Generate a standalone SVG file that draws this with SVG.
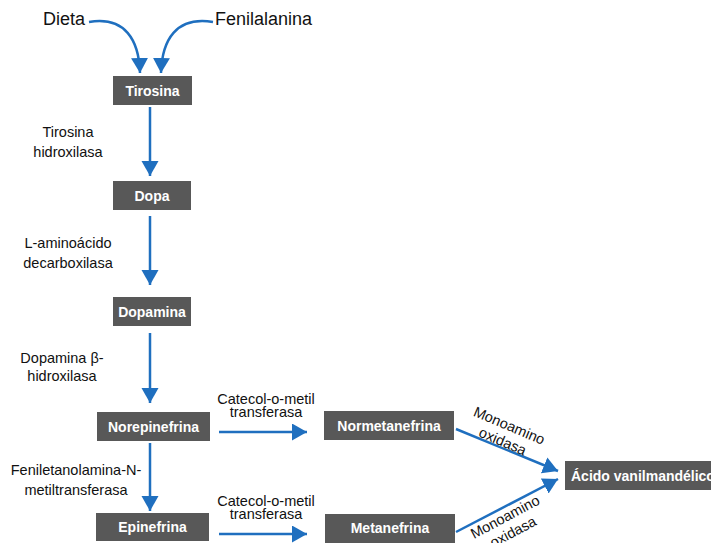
<svg xmlns="http://www.w3.org/2000/svg" width="711" height="543" viewBox="0 0 711 543">
<style>
.box{fill:#585858}
.bt{font-family:"Liberation Sans",Arial,sans-serif;font-weight:bold;font-size:14px;fill:#fff;text-anchor:middle}
.lb{font-family:"Liberation Sans",Arial,sans-serif;font-size:14.5px;fill:#111;text-anchor:middle}
.big{font-family:"Liberation Sans",Arial,sans-serif;font-size:18px;fill:#111}
.c{fill:none;stroke:#1F6FBF;stroke-width:2.5;marker-end:url(#ah)}
</style>
<defs>
<marker id="ah" markerUnits="userSpaceOnUse" markerWidth="16" markerHeight="18" refX="15" refY="8.5" orient="auto">
<path d="M0,0 L15,8.5 L0,17 z" fill="#1F6FBF"/>
</marker>
</defs>
<rect width="711" height="543" fill="#fff"/>
<g id="connectors">
<path class="c" d="M89 22 C125 16 139 40 140 73"/>
<path class="c" d="M213 22 C176 16 162 40 161 73"/>
<path class="c" d="M150 107 L150 176"/>
<path class="c" d="M150 216 L150 285"/>
<path class="c" d="M150 333 L150 403"/>
<path class="c" d="M150 443 L150 511"/>
<path class="c" d="M219 432 L307 432"/>
<path class="c" d="M219 534 L307 534"/>
<path class="c" d="M456 429 L558 471"/>
<path class="c" d="M456 532 L558 479"/>
</g>
<g id="labels">
<text class="big" x="43" y="25">Dieta</text>
<text class="big" x="215" y="25">Fenilalanina</text>
<text class="lb" x="68" y="137">Tirosina</text>
<text class="lb" x="68" y="157">hidroxilasa</text>
<text class="lb" x="68" y="248">L-aminoácido</text>
<text class="lb" x="68" y="268">decarboxilasa</text>
<text class="lb" x="62" y="363">Dopamina β-</text>
<text class="lb" x="62" y="381">hidroxilasa</text>
<text class="lb" x="76" y="475">Feniletanolamina-N-</text>
<text class="lb" x="76" y="495">metiltransferasa</text>
<text class="lb" x="266" y="404">Catecol-o-metil</text>
<text class="lb" x="266" y="417">transferasa</text>
<text class="lb" x="266" y="506">Catecol-o-metil</text>
<text class="lb" x="266" y="519">transferasa</text>
<g transform="translate(506,433.4) rotate(23)">
<text class="lb" x="0" y="-3.5">Monoamino</text>
<text class="lb" x="0" y="13.5">oxidasa</text>
</g>
<g transform="translate(509,524.4) rotate(-28)">
<text class="lb" x="0" y="-3.5">Monoamino</text>
<text class="lb" x="0" y="13.5">oxidasa</text>
</g>
</g>
<g id="tirosina"><rect class="box" x="113" y="76" width="79" height="29"/><text class="bt" x="152.5" y="95.5">Tirosina</text></g>
<g id="dopa"><rect class="box" x="113" y="181" width="78" height="29"/><text class="bt" x="152" y="200.5">Dopa</text></g>
<g id="dopamina"><rect class="box" x="113" y="297" width="78" height="29"/><text class="bt" x="152" y="316.5">Dopamina</text></g>
<g id="norepinefrina"><rect class="box" x="97" y="412" width="113" height="29"/><text class="bt" x="153.5" y="431.5">Norepinefrina</text></g>
<g id="epinefrina"><rect class="box" x="96" y="513" width="113" height="28"/><text class="bt" x="152.5" y="532">Epinefrina</text></g>
<g id="normetanefrina"><rect class="box" x="324" y="411" width="130" height="29"/><text class="bt" x="389" y="430.5">Normetanefrina</text></g>
<g id="metanefrina"><rect class="box" x="325" y="514" width="130" height="29"/><text class="bt" x="390" y="533">Metanefrina</text></g>
<g id="acido"><rect class="box" x="565" y="461" width="160" height="29"/><text class="bt" x="571" y="480.5" style="text-anchor:start">Ácido vanilmandélico</text></g>
</svg>
